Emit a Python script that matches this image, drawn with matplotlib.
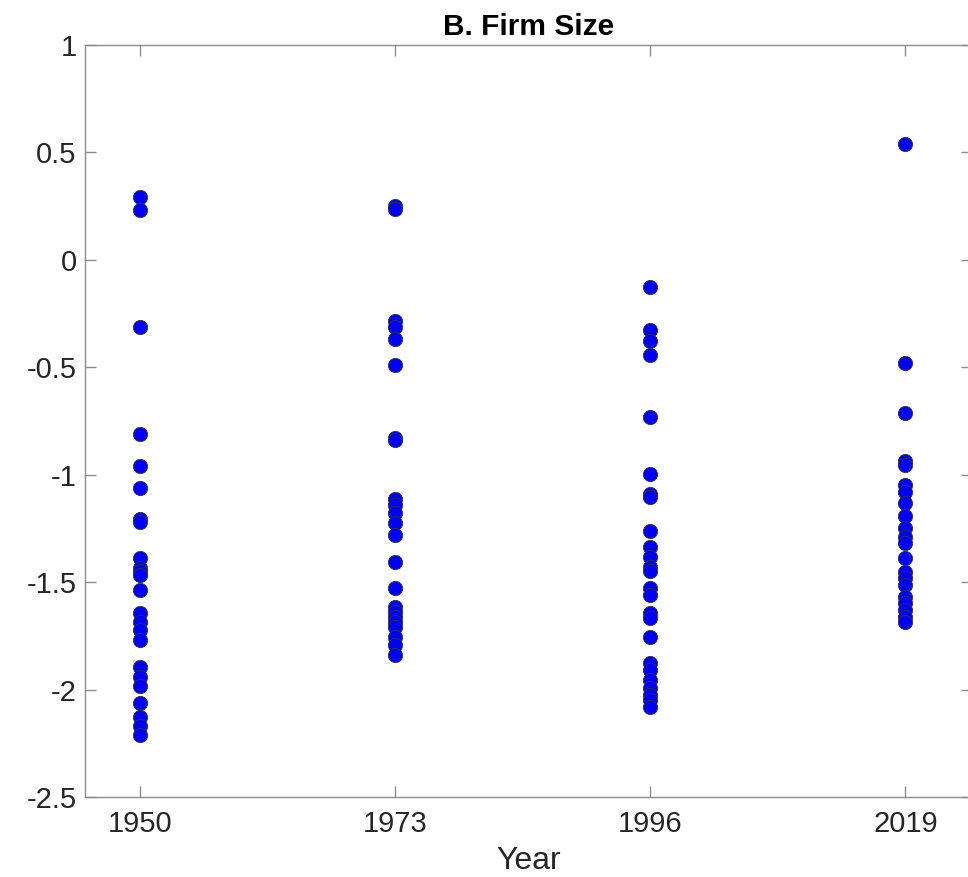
import matplotlib.pyplot as plt
import numpy as np

plt.rcParams['font.family'] = ['Liberation Sans', 'DejaVu Sans']

years = [1950, 1973, 1996, 2019]

size_1950 = [0.293, 0.232, -0.312, -0.810, -0.959, -1.062, -1.205, -1.222, -1.388, -1.434,
             -1.450, -1.467, -1.537, -1.644, -1.686, -1.723, -1.769, -1.895, -1.941, -1.983,
             -2.062, -2.128, -2.170, -2.211]
size_1973 = [0.250, 0.236, -0.285, -0.312, -0.368, -0.489, -0.830, -0.838, -1.113, -1.141,
             -1.178, -1.225, -1.281, -1.406, -1.527, -1.616, -1.639, -1.662, -1.686, -1.709,
             -1.755, -1.793, -1.839]
size_1996 = [-0.126, -0.326, -0.378, -0.443, -0.731, -0.997, -1.090, -1.104, -1.262, -1.336,
             -1.383, -1.430, -1.448, -1.527, -1.560, -1.644, -1.667, -1.755, -1.876, -1.909,
             -1.955, -1.993, -2.025, -2.049, -2.081]
size_2019 = [0.539, -0.480, -0.713, -0.936, -0.955, -1.048, -1.080, -1.132, -1.192, -1.248,
             -1.290, -1.318, -1.388, -1.453, -1.481, -1.513, -1.569, -1.597, -1.630, -1.662,
             -1.686]

all_sizes = [size_1950, size_1973, size_1996, size_2019]

fig = plt.figure(figsize=(9.68, 8.77), dpi=100)
ax = fig.add_axes([0.0878, 0.0912, 0.9162, 0.8575])

for yr, vals in zip(years, all_sizes):
    ax.scatter(np.full(len(vals), yr), vals, s=105, c='#0000ff',
               edgecolors='#333333', linewidths=0.6, zorder=3)

ax.set_xlim(1945, 2025)
ax.set_ylim(-2.5, 1)
ax.set_xticks(years)
ax.set_yticks([-2.5, -2, -1.5, -1, -0.5, 0, 0.5, 1])
ax.set_yticklabels(['-2.5', '-2', '-1.5', '-1', '-0.5', '0', '0.5', '1'])

for s in ax.spines.values():
    s.set_color('#8c8c8c')
    s.set_linewidth(1.0)
ax.tick_params(direction='in', length=8, width=1.0, color='#8c8c8c',
               labelsize=21, labelcolor='#262626', top=True, right=True, pad=6)
ax.tick_params(axis='x', pad=9)

ax.set_xlabel('Year', fontsize=23, color='#262626', labelpad=6)
ax.set_title('B. Firm Size', fontsize=21.5, fontweight='bold', pad=7)

fig.savefig('out.png', dpi=100)
